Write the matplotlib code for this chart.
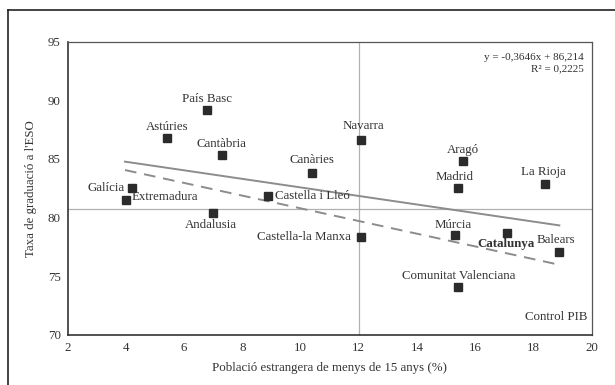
import numpy as np
import matplotlib
matplotlib.use('Agg')
import matplotlib.pyplot as plt
from matplotlib.lines import Line2D

# dades: població estrangera <15 anys (%) i taxa de graduació a l'ESO
regions = ['País Basc', 'Astúries', 'Cantàbria', 'Galícia', 'Extremadura', 'Andalusia',
           'Castella i Lleó', 'Canàries', 'Navarra', 'Aragó', 'Madrid', 'La Rioja',
           'Castella-la Manxa', 'Múrcia', 'Catalunya', 'Balears', 'Comunitat Valenciana']
pob_estr = [6.79, 5.41, 7.30, 4.21, 4.00, 6.98, 8.87, 10.39, 12.08, 15.58, 15.41, 18.40,
            12.08, 15.31, 17.09, 18.87, 15.41]
taxa_grad = [89.2, 86.8, 85.3, 82.5, 81.5, 80.4, 81.8, 83.8, 86.6, 84.85, 82.5, 82.9,
             78.35, 78.55, 78.7, 77.1, 74.1]

# posició de l'etiqueta respecte del punt: (dx, dy) en píxels, alineació
etiq_pos = {
    'País Basc': (0, 11, 'center'), 'Astúries': (0, 11, 'center'), 'Cantàbria': (0, 11, 'center'),
    'Galícia': (-7, 0, 'right'), 'Extremadura': (6, 3, 'left'), 'Andalusia': (-2, -12, 'center'),
    'Castella i Lleó': (7, 0, 'left'), 'Canàries': (0, 13, 'center'), 'Navarra': (2, 14, 'center'),
    'Aragó': (0, 11, 'center'), 'Madrid': (-3, 11, 'center'), 'La Rioja': (-2, 12, 'center'),
    'Castella-la Manxa': (-10, 0, 'right'), 'Múrcia': (-2, 10, 'center'),
    'Catalunya': (-1, -11, 'center'), 'Balears': (-3, 12, 'center'),
    'Comunitat Valenciana': (1, 11, 'center'),
}

# rectes de regressió
pend_1, orig_1 = -0.3646, 86.214   # sense control
pend_2, orig_2 = -0.5416, 86.20    # control PIB (discontínua)
x_min_recta, x_max_recta = 3.97, 18.89
mitjana_x, mitjana_y = 12.0, 80.7

plt.rcParams['font.family'] = ['Liberation Serif', 'DejaVu Serif']
fs = 9.3
fig = plt.figure(figsize=(6.15, 3.85), dpi=100)
ax = fig.add_axes([0.110, 0.1306, 0.852, 0.7611])

ax.axvline(mitjana_x, color='#b0b0b0', lw=0.9, zorder=1)
ax.axhline(mitjana_y, color='#b0b0b0', lw=0.9, zorder=1)

xr = np.array([x_min_recta, x_max_recta])
ax.plot(xr, pend_1 * xr + orig_1, color='#8c8c8c', lw=1.4, zorder=2)
ax.plot(xr, pend_2 * xr + orig_2, color='#8c8c8c', lw=1.4, ls=(0, (6, 4)), zorder=2)

ax.plot(pob_estr, taxa_grad, 's', color='#2b2b2b', ms=5.4, zorder=3)

for nom, x, y in zip(regions, pob_estr, taxa_grad):
    dx, dy, ha = etiq_pos[nom]
    ax.annotate(nom, (x, y), xytext=(dx * 0.72, dy * 0.72), textcoords='offset points',
                ha=ha, va='center', fontsize=fs, color='#333333',
                fontweight='bold' if nom == 'Catalunya' else 'normal', zorder=4)

ax.text(0.985, 0.962, 'y = -0,3646x + 86,214\nR² = 0,2225', transform=ax.transAxes,
        ha='right', va='top', fontsize=8.0, color='#333333', linespacing=1.3)
ax.text(0.992, 0.04, 'Control PIB', transform=ax.transAxes, ha='right', va='bottom',
        fontsize=fs, color='#333333')

ax.set_xlim(2, 20)
ax.set_ylim(70, 95)
ax.set_xticks(range(2, 21, 2))
ax.set_yticks(range(70, 96, 5))
ax.tick_params(length=0, labelsize=fs, colors='#333333', pad=5)
ax.set_xlabel('Població estrangera de menys de 15 anys (%)', fontsize=fs, color='#333333', labelpad=6)
ax.set_ylabel("Taxa de graduació a l'ESO", fontsize=fs, color='#333333', labelpad=8)

for s in ['left', 'bottom']:
    ax.spines[s].set_color('#333333')
    ax.spines[s].set_linewidth(1.2)
for s in ['top', 'right']:
    ax.spines[s].set_color('#555555')
    ax.spines[s].set_linewidth(0.9)

# marc exterior (només vores superior i esquerra)
fig.add_artist(Line2D([8 / 615, 8 / 615], [0, 1 - 10 / 385], color='#222222', lw=1.2))
fig.add_artist(Line2D([8 / 615, 1], [1 - 10 / 385, 1 - 10 / 385], color='#222222', lw=1.2))

fig.savefig('out.png', dpi=100)
